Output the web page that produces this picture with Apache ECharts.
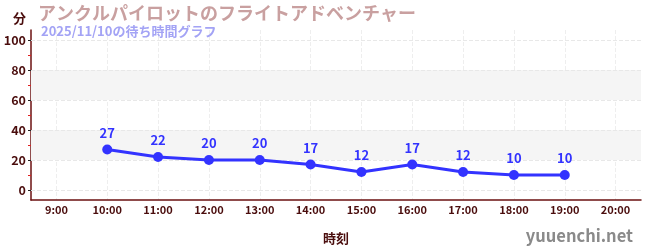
<!DOCTYPE html>
<html><head><meta charset="utf-8">
<script src="https://cdn.jsdelivr.net/npm/echarts@6/dist/echarts.min.js"></script>
<style>html,body{margin:0;padding:0;background:#fff}#c{width:650px;height:250px}</style>
</head><body><div id="c"></div>
<script>
const categories = ['9:00','10:00','11:00','12:00','13:00','14:00','15:00','16:00','17:00','18:00','19:00','20:00'];
const waitTimes = [null,27,22,20,20,17,12,17,12,10,10,null];
const yTickValues = [0,20,40,60,80,100];
const yMinorTickValues = [10,30,50,70,90];
const bandRanges = [[20,40],[60,80]];
const titleText = 'アンクルパイロットのフライトアドベンチャー';
const subtitleText = '2025/11/10の待ち時間グラフ';
const yName = '分';
const xName = '時刻';
const watermark = 'yuuenchi.net';

const FONT = '"Noto Sans CJK JP", "Noto Sans", sans-serif';
const dark = '#4a0d0d';
const axisCol = '#6b1010';
const chart = echarts.init(document.getElementById('c'), null, {renderer:'canvas'});
chart.setOption({
  animation:false,
  textStyle:{fontFamily:FONT},
  title:[
    {text:titleText, left:33, top:-1, textStyle:{fontFamily:FONT,fontSize:18,fontWeight:'bold',color:'#c9a0a0'}},
    {text:subtitleText, left:36, top:20, textStyle:{fontFamily:FONT,fontSize:13,fontWeight:'bold',color:'#a3a3f5'}},
    {text:yName, left:8, top:7, textStyle:{fontFamily:FONT,fontSize:13,fontWeight:'bold',color:dark}},
    {text:watermark, right:12, top:222, textStyle:{fontFamily:FONT,fontSize:16.5,fontWeight:'bold',color:'#8a8a8a'}}
  ],
  grid:{left:31, right:9, top:30, bottom:50, containLabel:false},
  xAxis:{
    type:'category', data:categories, boundaryGap:true,
    name:xName, nameLocation:'middle', nameGap:32,
    nameTextStyle:{fontFamily:FONT,fontSize:13,fontWeight:'bold',color:dark},
    axisLine:{onZero:false, lineStyle:{color:axisCol,width:1.5}},
    axisTick:{alignWithLabel:true, length:4, lineStyle:{color:'#888'}},
    axisLabel:{color:dark, fontSize:11, fontWeight:'bold', margin:4},
    splitLine:{show:true, alignWithLabel:true, lineStyle:{color:'#eeeeee', type:'dashed'}}
  },
  yAxis:[{
    type:'value', min:-6.667, max:106.667, position:'left',
    axisLine:{show:true, onZero:false, lineStyle:{color:axisCol,width:1.5}},
    axisTick:{show:true, customValues:yTickValues, length:3, lineStyle:{color:'#222'}},
    axisLabel:{customValues:yTickValues, color:dark, fontSize:12.5, fontWeight:'bold', margin:5},
    splitLine:{show:false}
  },{
    type:'value', min:-6.667, max:106.667, position:'left', offset:0,
    axisLine:{show:false, onZero:false},
    axisTick:{show:true, customValues:yMinorTickValues, length:3, lineStyle:{color:'#e02020'}},
    axisLabel:{show:false},
    splitLine:{show:false}
  }],
  series:[{
    type:'line', data:waitTimes, yAxisIndex:0,
    symbol:'circle', symbolSize:10,
    lineStyle:{color:'#3333ff', width:3},
    itemStyle:{color:'#3333ff'},
    label:{show:true, position:'top', color:'#3333ff', fontSize:13, fontWeight:'bold', distance:5},
    markArea:{silent:true, itemStyle:{color:'#f5f5f5'}, data:bandRanges.map(r=>[{yAxis:r[0]},{yAxis:r[1]}])},
    markLine:{silent:true, symbol:'none', label:{show:false}, lineStyle:{color:'#e8e8e8', type:'dashed', width:1}, data:yTickValues.map(v=>({yAxis:v}))},
    z:5
  }]
});
</script></body></html>
